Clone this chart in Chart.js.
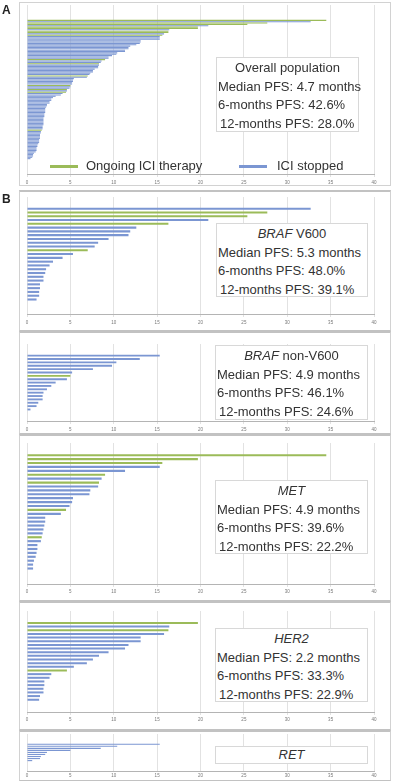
<!DOCTYPE html>
<html>
<head>
<meta charset="utf-8">
<script src="https://cdn.jsdelivr.net/npm/chart.js@4.4.1/dist/chart.umd.min.js"></script>
<style>
    body { margin: 0; background: #fff; font-family: "Liberation Sans", Arial, sans-serif; color: #333; }
    #fig { position: relative; width: 393px; height: 781px; overflow: hidden; }
    .frame { position: absolute; box-sizing: border-box; border: 1px solid #d2d2d2; background: #fff; }
    .frame.sub { border-top: 2px solid #c2c2c2; border-bottom: 1px solid #c2c2c2; }
    canvas { position: absolute; left: 0; }
    .panel-label { position: absolute; left: 2px; font-weight: bold; font-size: 12px; line-height: 12px; color: #222; }
    .stats { position: absolute; box-sizing: border-box; border: 1px solid #d8d8d8; background: #fff; padding-top: 1px; font-size: 13px; }
    .stats div { height: 18.7px; line-height: 18.7px; white-space: nowrap; padding-left: 1px; }
    .stats .title { text-align: center; padding-left: 0; }
    .stats .last { padding-left: 3px; }
    .legend-line { position: absolute; height: 3px; }
    .legend-text { position: absolute; font-size: 13px; line-height: 16px; white-space: nowrap; }
</style>
</head>
<body>
<div id="fig">
    <div class="frame" style="left:19px;top:2px;width:372px;height:184px"></div>
    <div class="frame sub" style="left:19px;top:190px;width:372px;height:141px"></div>
    <div class="frame sub" style="left:19px;top:331px;width:372px;height:103px"></div>
    <div class="frame sub" style="left:19px;top:434px;width:372px;height:167px"></div>
    <div class="frame sub" style="left:19px;top:601px;width:372px;height:129px"></div>
    <div class="frame sub" style="left:19px;top:730px;width:372px;height:51px"></div>

    <canvas id="chartAll"></canvas>
    <canvas id="chartV600"></canvas>
    <canvas id="chartNonV600"></canvas>
    <canvas id="chartMet"></canvas>
    <canvas id="chartHer2"></canvas>
    <canvas id="chartRet"></canvas>

    <div class="panel-label" style="top:4px">A</div>
    <div class="panel-label" style="top:193px">B</div>

    <div class="stats" style="left:216px;top:57px;width:143px;height:75px">
        <div class="title">Overall population</div>
        <div>Median PFS: 4.7 months</div>
        <div>6-months PFS: 42.6%</div>
        <div class="last">12-months PFS: 28.0%</div>
    </div>
    <div class="stats" style="left:216px;top:223px;width:152px;height:74px">
        <div class="title"><i>BRAF</i> V600</div>
        <div>Median PFS: 5.3 months</div>
        <div>6-months PFS: 48.0%</div>
        <div class="last">12-months PFS: 39.1%</div>
    </div>
    <div class="stats" style="left:215px;top:345px;width:153px;height:75px">
        <div class="title"><i>BRAF</i> non-V600</div>
        <div>Median PFS: 4.9 months</div>
        <div>6-months PFS: 46.1%</div>
        <div class="last">12-months PFS: 24.6%</div>
    </div>
    <div class="stats" style="left:215px;top:480px;width:153px;height:74px">
        <div class="title"><i>MET</i></div>
        <div>Median PFS: 4.9 months</div>
        <div>6-months PFS: 39.6%</div>
        <div class="last">12-months PFS: 22.2%</div>
    </div>
    <div class="stats" style="left:215px;top:628px;width:153px;height:74px">
        <div class="title"><i>HER2</i></div>
        <div>Median PFS: 2.2 months</div>
        <div>6-months PFS: 33.3%</div>
        <div class="last">12-months PFS: 22.9%</div>
    </div>
    <div class="stats" style="left:215px;top:746px;width:153px;height:18px;padding-top:0">
        <div class="title" style="height:16px;line-height:16px"><i>RET</i></div>
    </div>

    <div class="legend-line" style="left:50px;top:165px;width:28px;background:#9bbb59"></div>
    <div class="legend-text" style="left:86px;top:158px">Ongoing ICI therapy</div>
    <div class="legend-line" style="left:239px;top:165px;width:28px;background:#7b96d2"></div>
    <div class="legend-text" style="left:277px;top:158px">ICI stopped</div>
</div>

<script>
// PFS in months per patient, 1 = ICI therapy still ongoing, 0 = ICI stopped
const xTicks = [0, 5, 10, 15, 20, 25, 30, 35, 40];

const allPfs = [34.5, 32.7, 27.7, 25.4, 20.9, 19.7, 19.7, 16.4, 16.3, 16.3, 15.8, 15.6, 15.3, 15.3, 15.3,
    13.1, 13.1, 13.0, 12.6, 11.9, 11.7, 11.7, 11.3, 11.3, 10.4, 10.3, 9.8, 9.4, 9.4, 9.0, 8.6, 8.5, 8.3, 8.3,
    8.2, 8.2, 7.8, 7.6, 7.6, 7.3, 7.2, 7.0, 6.9, 5.4, 5.3, 5.3, 5.2, 5.2, 5.0, 5.0, 4.9, 4.6, 4.6, 4.5, 4.1,
    3.9, 3.3, 3.0, 2.8, 2.8, 2.6, 2.6, 2.3, 2.3, 2.2, 2.1, 2.1, 2.1, 2.1, 2.0, 2.0, 2.0, 1.9, 1.9, 1.9, 1.9,
    1.9, 1.9, 1.8, 1.8, 1.8, 1.7, 1.6, 1.6, 1.5, 1.5, 1.5, 1.5, 1.4, 1.4, 1.4, 1.3, 1.2, 1.2, 1.1, 1.1, 1.1,
    1.0, 0.8, 0.7, 0.7, 0.6, 0.4];
const allOngoing = [1, 0, 1, 1, 0, 1, 1, 0, 1, 1, 0, 1, 0, 0, 0,
    0, 0, 0, 0, 0, 0, 0, 0, 0, 0, 0, 0, 0, 0, 1, 0, 0, 1, 0,
    0, 0, 0, 0, 0, 0, 0, 1, 0, 0, 0, 0, 0, 0, 1, 0, 0, 1, 0, 1, 0,
    0, 0, 0, 0, 0, 0, 0, 0, 0, 0, 0, 0, 0, 0, 0, 0, 0, 0, 0, 0, 0,
    0, 0, 0, 0, 0, 1, 0, 0, 0, 0, 0, 0, 0, 0, 0, 0, 0, 0, 0, 0, 0,
    0, 0, 0, 0, 0, 0];

const v600Pfs = [32.7, 27.7, 25.4, 20.9, 16.3, 12.6, 11.9, 11.7, 9.4, 8.2, 7.8, 7.0, 5.3, 4.1, 3.0, 2.6, 2.2,
    2.1, 1.9, 1.9, 1.5, 1.5, 1.4, 1.4, 1.1];
const v600Ongoing = [0, 1, 1, 0, 1, 0, 0, 0, 0, 0, 0, 1, 0, 0, 0, 0, 0, 0, 0, 0, 0, 0, 0, 0, 0];

const nonV600Pfs = [15.3, 13.0, 10.3, 9.8, 7.6, 5.2, 5.0, 4.6, 3.3, 2.8, 2.3, 1.9, 1.8, 1.8, 1.3, 1.1, 0.4];
const nonV600Ongoing = [0, 0, 0, 0, 0, 0, 1, 0, 0, 0, 0, 0, 0, 0, 0, 0, 0];

const metPfs = [34.5, 19.7, 15.6, 15.3, 11.3, 9.0, 8.6, 8.3, 8.2, 7.3, 7.2, 5.3, 5.2, 4.9, 4.5, 3.9, 2.1, 2.1,
    2.0, 1.9, 1.8, 1.7, 1.6, 1.2, 1.2, 1.1, 1.0, 0.8, 0.7, 0.7];
const metOngoing = [1, 1, 1, 0, 0, 1, 0, 1, 0, 0, 0, 0, 0, 0, 1, 0, 0, 0, 0, 0, 0, 1, 0, 0, 0, 0, 0, 0, 0, 0];

const her2Pfs = [19.7, 16.4, 16.3, 15.8, 13.1, 13.1, 11.7, 11.3, 9.4, 8.3, 7.6, 6.9, 5.4, 4.6, 2.8, 2.6, 2.0,
    2.0, 1.9, 1.9, 1.5, 1.4];
const her2Ongoing = [1, 0, 1, 0, 0, 0, 0, 0, 0, 0, 0, 0, 0, 1, 0, 0, 0, 0, 0, 0, 0, 0];

const retPfs = [15.3, 10.4, 8.5, 5.0, 2.3, 2.1, 1.6, 1.5, 0.6];
const retOngoing = [0, 0, 0, 0, 0, 0, 0, 0, 0];

const GREEN = '#9bbb59';
const BLUE = '#7b96d2';
const AXIS_H = 14;

// top = chart area top, first/last = centre of first/last bar, bottom = x axis line
function makeSwimmer(id, pfs, ongoing, lay) {
    const n = pfs.length;
    const pitch = (lay.last - lay.first) / (n - 1);
    const yMin = -(lay.first - lay.top) / pitch;
    const yMax = (n - 1) + (lay.bottom - lay.last) / pitch;

    const canvas = document.getElementById(id);
    canvas.width = 393;
    canvas.height = Math.round(lay.bottom - lay.top) + AXIS_H;
    canvas.style.top = lay.top + 'px';

    return new Chart(canvas.getContext('2d'), {
        type: 'bar',
        data: {
            datasets: [{
                data: pfs.map((v, i) => ({ x: v, y: i })),
                backgroundColor: ongoing.map(o => o ? GREEN : BLUE),
                borderWidth: 0,
                barPercentage: lay.bar,
                categoryPercentage: 1
            }]
        },
        options: {
            indexAxis: 'y',
            responsive: false,
            animation: false,
            layout: { padding: { left: 27, right: 19, top: 0, bottom: 0 } },
            plugins: { legend: { display: false }, tooltip: { enabled: false } },
            scales: {
                y: { type: 'linear', reverse: true, min: yMin, max: yMax, display: false },
                x: {
                    type: 'linear',
                    min: 0,
                    max: 40,
                    afterFit: s => { s.height = AXIS_H; },
                    afterBuildTicks: s => { s.ticks = xTicks.map(v => ({ value: v })); },
                    grid: { color: '#e2e2e2', tickLength: lay.tickLen },
                    border: { color: '#b4b4b4' },
                    ticks: {
                        color: '#777',
                        font: { family: 'Liberation Sans', size: 4.5 },
                        padding: lay.tickPad,
                        maxRotation: 0,
                        autoSkip: false
                    }
                }
            }
        }
    });
}

makeSwimmer('chartAll', allPfs, allOngoing, { top: 5, first: 6.5, last: 172, bottom: 173.5, bar: 0.8, tickLen: 3, tickPad: 3 });
makeSwimmer('chartV600', v600Pfs, v600Ongoing, { top: 197, first: 199.3, last: 308.3, bottom: 314, bar: 0.55, tickLen: 3, tickPad: 3 });
makeSwimmer('chartNonV600', nonV600Pfs, nonV600Ongoing, { top: 344, first: 346.7, last: 418, bottom: 420.5, bar: 0.55, tickLen: 3, tickPad: 3 });
makeSwimmer('chartMet', metPfs, metOngoing, { top: 442.5, first: 445, last: 576.7, bottom: 583, bar: 0.55, tickLen: 3, tickPad: 2.5 });
makeSwimmer('chartHer2', her2Pfs, her2Ongoing, { top: 611, first: 613.3, last: 709.3, bottom: 712, bar: 0.55, tickLen: 3, tickPad: 2.5 });
makeSwimmer('chartRet', retPfs, retOngoing, { top: 734, first: 736, last: 768.7, bottom: 771, bar: 0.55, tickLen: 1, tickPad: 1 });
</script>
</body>
</html>
